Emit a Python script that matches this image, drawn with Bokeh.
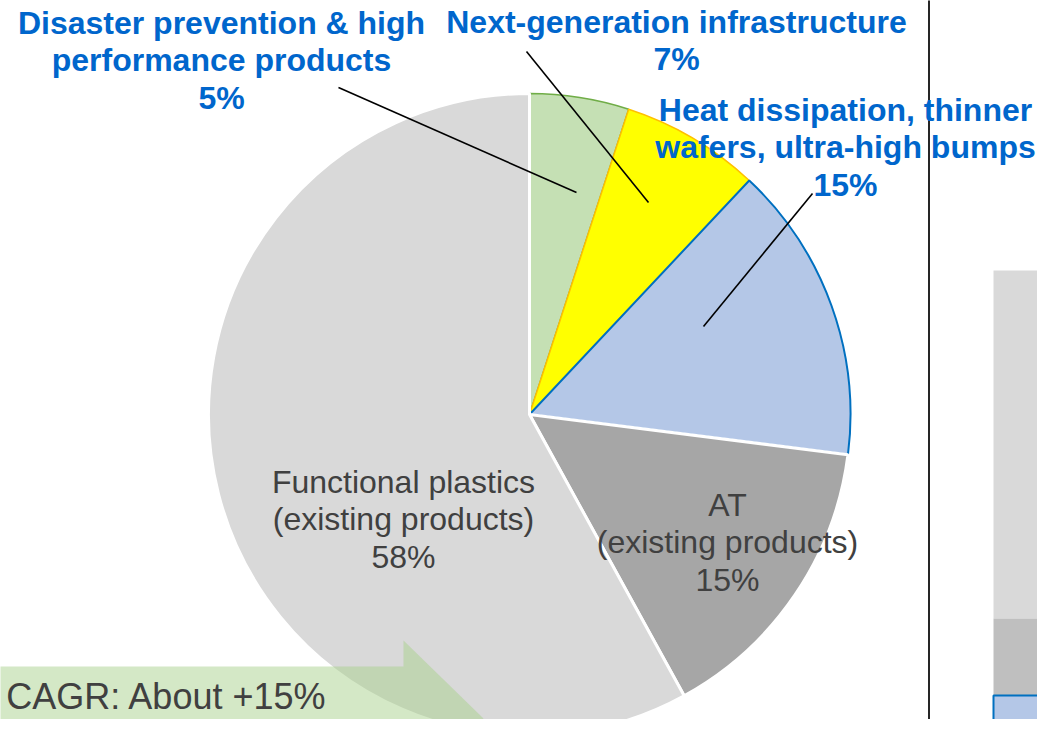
import numpy as np
from bokeh.plotting import figure
from bokeh.models import Range1d, ColumnDataSource
from bokeh.core.properties import value
from bokeh.embed import file_html
from bokeh.resources import INLINE

# ---------------- data ----------------
categories = [
    "Disaster prevention & high performance products",
    "Next-generation infrastructure",
    "Heat dissipation, thinner wafers, ultra-high bumps",
    "AT (existing products)",
    "Functional plastics (existing products)",
]
shares = [5, 7, 15, 15, 58]
share_labels = ["5%", "7%", "15%", "15%", "58%"]
label_lines = [
    ["Disaster prevention & high", "performance products"],
    ["Next-generation infrastructure"],
    ["Heat dissipation, thinner", "wafers, ultra-high bumps"],
    ["AT", "(existing products)"],
    ["Functional plastics", "(existing products)"],
]
right_stack_names = ["Functional plastics", "AT", "New fields"]
right_stack_values = [348, 77, 60]
cagr_text = "CAGR: About  +15%"

# ---------------- styles ----------------
fills = ["#C5E0B4", "#FFFF00", "#B4C7E7", "#A6A6A6", "#D9D9D9"]
edges = ["#70AD47", "#FFC000", "#0070C0", "#FFFFFF", "#FFFFFF"]
edge_w = [1.5, 1.5, 2.0, 3.0, 3.0]
BLUE = "#0066CC"
GRAY_TXT = "#404040"
FONT = value("Liberation Sans")

IMG_H = 735
TXT_SHIFT = 11
def Y(v):
    return IMG_H - v

p = figure(width=1037, height=719, x_range=Range1d(0, 1037), y_range=Range1d(16, 735),
           x_axis_type=None, y_axis_type=None, toolbar_location=None,
           output_backend="svg", min_border=0)
p.outline_line_color = None
p.background_fill_color = "white"
p.border_fill_color = "white"

# ---------------- pie ----------------
cx, cy, R = 529, Y(414), 321
sh = np.array(shares, dtype=float)
cum = np.cumsum(sh) / sh.sum()
start_frac = cum - sh / sh.sum()
start_ang = np.pi / 2 - 2 * np.pi * cum
end_ang = np.pi / 2 - 2 * np.pi * start_frac
src = ColumnDataSource(dict(x=[cx] * 5, y=[cy] * 5, s=start_ang, e=end_ang,
                            fill=fills, edge=edges, w=edge_w))
p.wedge(x="x", y="y", radius=R, start_angle="s", end_angle="e", direction="anticlock",
        fill_color="fill", line_color="edge", line_width="w", source=src)

# ---------------- right partial stacked bar ----------------
bar_left, bar_right, bar_top = 993, 1040, 270
tops = bar_top + np.concatenate([[0], np.cumsum(right_stack_values)[:-1]])
bots = bar_top + np.cumsum(right_stack_values)
bar_fill = ["#D9D9D9", "#BFBFBF", "#B4C7E7"]
bar_line = [None, None, "#0070C0"]
for i in range(3):
    p.quad(left=bar_left, right=bar_right, top=Y(tops[i]), bottom=Y(bots[i]),
           fill_color=bar_fill[i], line_color=bar_line[i], line_width=2)

# vertical divider
p.segment(x0=928.5, y0=Y(-5), x1=928.5, y1=Y(740), line_color="#262626", line_width=2)

# ---------------- arrow ----------------
ax = [-50, 403, 403, 483, 403, 403, -50]
ay = [666, 666, 640, 718, 796, 770, 770]
p.patch(ax, [Y(v) for v in ay], fill_color="#A9D18E", fill_alpha=0.5, line_color=None)

# ---------------- leader lines ----------------
lx0 = [338, 526, 812]
ly0 = [87, 51, 193]
lx1 = [576, 648, 703]
ly1 = [192, 202, 326]
p.segment(x0=lx0, y0=[Y(v) for v in ly0], x1=lx1, y1=[Y(v) for v in ly1],
          line_color="black", line_width=1.6)

# ---------------- labels ----------------
label_x = [221, 676, 845, 727, 403]
label_y0 = [33, 32, 120, 515, 492]
spacing = 37.5
for i in range(5):
    lines = label_lines[i] + [share_labels[i]]
    outside = i < 3
    for j, t in enumerate(lines):
        p.text(x=[label_x[i]], y=[Y(label_y0[i] + j * spacing - TXT_SHIFT)], text=[t],
               text_font=FONT, text_font_size="32px",
               text_font_style="bold" if outside else "normal",
               text_color=BLUE if outside else GRAY_TXT,
               text_align="center", text_baseline="alphabetic")

p.text(x=[337], y=[Y(707 - TXT_SHIFT)], text=[cagr_text], text_font=FONT, text_font_size="36px",
       text_color=GRAY_TXT, text_align="right", text_baseline="alphabetic")

open("out.html", "w").write(file_html(p, INLINE))
